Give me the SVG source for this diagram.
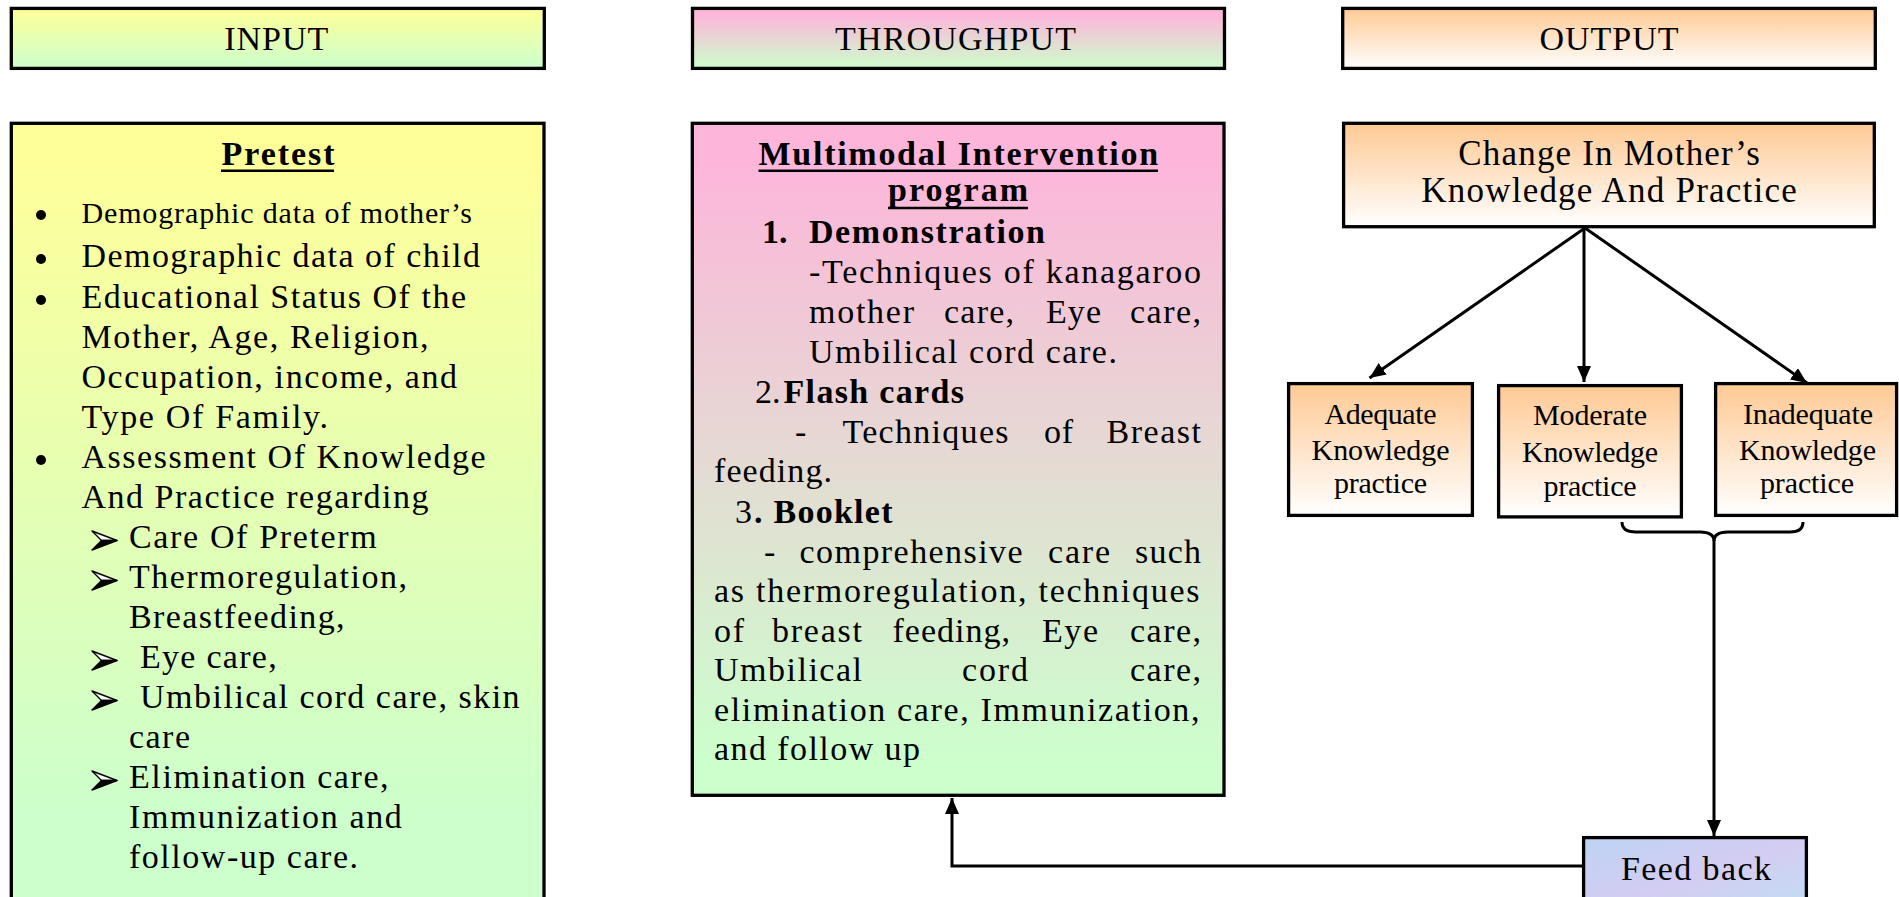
<svg xmlns="http://www.w3.org/2000/svg" width="1899" height="897" viewBox="0 0 1899 897">
<defs>
  <linearGradient id="gYG" x1="0" y1="0" x2="0" y2="1">
    <stop offset="0" stop-color="#FFFF99"/><stop offset="1" stop-color="#CCFFCC"/>
  </linearGradient>
  <linearGradient id="gYGbody" gradientUnits="userSpaceOnUse" x1="0" y1="150" x2="0" y2="820">
    <stop offset="0" stop-color="#FFFF99"/><stop offset="1" stop-color="#CCFFCC"/>
  </linearGradient>
  <linearGradient id="gPG" x1="0" y1="0" x2="0" y2="1">
    <stop offset="0.1" stop-color="#FDB5DA"/><stop offset="1" stop-color="#CCFFCC"/>
  </linearGradient>
  <linearGradient id="gPGbody" x1="0" y1="0" x2="0" y2="1">
    <stop offset="0.05" stop-color="#FDB5DA"/><stop offset="0.95" stop-color="#CCFFCC"/>
  </linearGradient>
  <linearGradient id="gOW" x1="0" y1="0" x2="0" y2="1">
    <stop offset="0.05" stop-color="#FFCC99"/><stop offset="1" stop-color="#FFFFFF"/>
  </linearGradient>
  <linearGradient id="gFB" x1="0" y1="0" x2="1" y2="1">
    <stop offset="0" stop-color="#BCD4F4"/><stop offset="0.5" stop-color="#D4CCF2"/><stop offset="1" stop-color="#BFE0F4"/>
  </linearGradient>
  <marker id="ah" markerUnits="userSpaceOnUse" markerWidth="16" markerHeight="14" refX="16" refY="7" orient="auto">
    <path d="M0,0 L16,7 L0,14 z" fill="#000"/>
  </marker>
  <g id="arrowBullet">
    <path d="M0,0 L25,9.5 L9.5,9.5 Z" fill="#fff" stroke="#000" stroke-width="1.4" stroke-linejoin="round"/>
    <path d="M9.5,9.5 L25,9.5 L0,19 Z" fill="#000" stroke="#000" stroke-width="1.4" stroke-linejoin="round"/>
  </g>
</defs>
<style>
  .t{font-family:"Liberation Serif","Times New Roman",Times,serif;font-size:34px;fill:#000}
  .b{font-weight:bold}
  .s{font-size:30px}
  .m{text-anchor:middle}
  .box{stroke:#000;stroke-width:3.3}
  .ln{stroke:#000;stroke-width:3;fill:none}
  .ul{stroke:#000;stroke-width:2.6}
</style>

<g id="header-input">
  <rect class="box" x="11.3" y="8.4" width="533" height="60" fill="url(#gYG)"/>
  <text class="t m" x="276.3" y="50" textLength="104" lengthAdjust="spacing">INPUT</text>
</g>
<g id="header-throughput">
  <rect class="box" x="692.5" y="8.4" width="532" height="60" fill="url(#gPG)"/>
  <text class="t m" x="955.5" y="50" textLength="241" lengthAdjust="spacing">THROUGHPUT</text>
</g>
<g id="header-output">
  <rect class="box" x="1342.7" y="8.4" width="532.6" height="60" fill="url(#gOW)"/>
  <text class="t m" x="1609" y="50" textLength="139" lengthAdjust="spacing">OUTPUT</text>
</g>

<g id="pretest">
  <rect class="box" x="11.3" y="123.3" width="532.7" height="820" fill="url(#gYGbody)"/>
  <text class="t b m" x="278" y="165" textLength="113" lengthAdjust="spacing">Pretest</text>
  <line class="ul" x1="221" y1="170.7" x2="334" y2="170.7"/>
  <circle cx="41" cy="215" r="5"/>
  <circle cx="41" cy="259" r="5"/>
  <circle cx="41" cy="300" r="5"/>
  <circle cx="41" cy="460" r="5"/>
  <text class="t s" x="81.4" y="223" textLength="390.6" lengthAdjust="spacing">Demographic data of mother’s</text>
  <text class="t" x="81.4" y="267" textLength="398.6" lengthAdjust="spacing">Demographic data of child</text>
  <text class="t" x="81.4" y="308" textLength="384.6" lengthAdjust="spacing">Educational Status Of the</text>
  <text class="t" x="81.4" y="348" textLength="347.2" lengthAdjust="spacing">Mother, Age, Religion,</text>
  <text class="t" x="81.4" y="388" textLength="375.6" lengthAdjust="spacing">Occupation, income, and</text>
  <text class="t" x="81.4" y="428" textLength="246.6" lengthAdjust="spacing">Type Of Family.</text>
  <text class="t" x="81.4" y="468" textLength="404.3" lengthAdjust="spacing">Assessment Of Knowledge</text>
  <text class="t" x="81.4" y="508" textLength="347.2" lengthAdjust="spacing">And Practice regarding</text>
  <use href="#arrowBullet" x="92" y="531"/>
  <use href="#arrowBullet" x="92" y="571"/>
  <use href="#arrowBullet" x="92" y="651"/>
  <use href="#arrowBullet" x="92" y="691"/>
  <use href="#arrowBullet" x="92" y="771"/>
  <text class="t" x="129" y="548" textLength="247.7" lengthAdjust="spacing">Care Of Preterm</text>
  <text class="t" x="129" y="588" textLength="278" lengthAdjust="spacing">Thermoregulation,</text>
  <text class="t" x="129" y="628" textLength="215.6" lengthAdjust="spacing">Breastfeeding,</text>
  <text class="t" x="140" y="668" textLength="136.7" lengthAdjust="spacing">Eye care,</text>
  <text class="t" x="140" y="708" textLength="379.6" lengthAdjust="spacing">Umbilical cord care, skin</text>
  <text class="t" x="129" y="748" textLength="61" lengthAdjust="spacing">care</text>
  <text class="t" x="129" y="788" textLength="259.6" lengthAdjust="spacing">Elimination care,</text>
  <text class="t" x="129" y="828" textLength="272.8" lengthAdjust="spacing">Immunization and</text>
  <text class="t" x="129" y="868" textLength="229" lengthAdjust="spacing">follow-up care.</text>
</g>

<g id="intervention">
  <rect class="box" x="692.3" y="123.3" width="531.7" height="672" fill="url(#gPGbody)"/>
  <text class="t b m" x="958.3" y="165" textLength="399.5" lengthAdjust="spacing">Multimodal Intervention</text>
  <line class="ul" x1="758.5" y1="170.7" x2="1158" y2="170.7"/>
  <text class="t b m" x="958" y="201" textLength="140" lengthAdjust="spacing">program</text>
  <line class="ul" x1="888" y1="208" x2="1028" y2="208"/>
  <text class="t b" x="762" y="243">1.</text>
  <text class="t b" x="809" y="243" textLength="236" lengthAdjust="spacing">Demonstration</text>
  <text class="t" x="809" y="283" textLength="392" lengthAdjust="spacing">-Techniques of kanagaroo</text>
  <text class="t" x="809" y="323" textLength="105" lengthAdjust="spacing">mother</text>
  <text class="t" x="944" y="323" textLength="70" lengthAdjust="spacing">care,</text>
  <text class="t" x="1046" y="323" textLength="55" lengthAdjust="spacing">Eye</text>
  <text class="t" x="1130" y="323" textLength="71" lengthAdjust="spacing">care,</text>
  <text class="t" x="809" y="363" textLength="308" lengthAdjust="spacing">Umbilical cord care.</text>
  <text class="t" x="755" y="403">2.</text>
  <text class="t b" x="783.5" y="403" textLength="180.5" lengthAdjust="spacing">Flash cards</text>
  <text class="t" x="795" y="443">-</text>
  <text class="t" x="842.5" y="443" textLength="166" lengthAdjust="spacing">Techniques</text>
  <text class="t" x="1044" y="443" textLength="29" lengthAdjust="spacing">of</text>
  <text class="t" x="1106.6" y="443" textLength="94.4" lengthAdjust="spacing">Breast</text>
  <text class="t" x="714" y="482" textLength="118" lengthAdjust="spacing">feeding.</text>
  <text class="t" x="735" y="523">3</text>
  <text class="t b" x="754" y="523" textLength="138.5" lengthAdjust="spacing">. Booklet</text>
  <text class="t" x="764" y="562.5">-</text>
  <text class="t" x="799.6" y="562.5" textLength="223" lengthAdjust="spacing">comprehensive</text>
  <text class="t" x="1048" y="562.5" textLength="62" lengthAdjust="spacing">care</text>
  <text class="t" x="1135" y="562.5" textLength="66" lengthAdjust="spacing">such</text>
  <text class="t" x="714" y="602" textLength="485.5" lengthAdjust="spacing">as thermoregulation, techniques</text>
  <text class="t" x="714" y="641.5" textLength="30" lengthAdjust="spacing">of</text>
  <text class="t" x="772" y="641.5" textLength="90" lengthAdjust="spacing">breast</text>
  <text class="t" x="892.5" y="641.5" textLength="117.5" lengthAdjust="spacing">feeding,</text>
  <text class="t" x="1042" y="641.5" textLength="56" lengthAdjust="spacing">Eye</text>
  <text class="t" x="1130" y="641.5" textLength="71" lengthAdjust="spacing">care,</text>
  <text class="t" x="714" y="681" textLength="148" lengthAdjust="spacing">Umbilical</text>
  <text class="t" x="962" y="681" textLength="66" lengthAdjust="spacing">cord</text>
  <text class="t" x="1130" y="681" textLength="71" lengthAdjust="spacing">care,</text>
  <text class="t" x="714" y="720.5" textLength="485.5" lengthAdjust="spacing">elimination care, Immunization,</text>
  <text class="t" x="714" y="760" textLength="206" lengthAdjust="spacing">and follow up</text>
</g>

<g id="change">
  <rect class="box" x="1343.6" y="123.3" width="530.7" height="103.4" fill="url(#gOW)"/>
  <text class="t m" x="1609" y="165" style="font-size:35px" textLength="301.5" lengthAdjust="spacing">Change In Mother’s</text>
  <text class="t m" x="1609" y="202" style="font-size:35px" textLength="375.4" lengthAdjust="spacing">Knowledge And Practice</text>
</g>

<g id="adequate">
  <rect class="box" x="1288.6" y="383.6" width="183.8" height="131.8" fill="url(#gOW)"/>
  <text class="t s m" x="1380.5" y="424" textLength="112" lengthAdjust="spacing">Adequate</text>
  <text class="t s m" x="1380.5" y="460" textLength="138" lengthAdjust="spacing">Knowledge</text>
  <text class="t s m" x="1380.5" y="493" textLength="93" lengthAdjust="spacing">practice</text>
</g>
<g id="moderate">
  <rect class="box" x="1498.6" y="385.6" width="182.8" height="131.3" fill="url(#gOW)"/>
  <text class="t s m" x="1590" y="425" textLength="114" lengthAdjust="spacing">Moderate</text>
  <text class="t s m" x="1590" y="462" textLength="136" lengthAdjust="spacing">Knowledge</text>
  <text class="t s m" x="1590" y="496" textLength="93" lengthAdjust="spacing">practice</text>
</g>
<g id="inadequate">
  <rect class="box" x="1715.6" y="383.6" width="181" height="131.8" fill="url(#gOW)"/>
  <text class="t s m" x="1808" y="424" textLength="130" lengthAdjust="spacing">Inadequate</text>
  <text class="t s m" x="1807.5" y="460" textLength="137" lengthAdjust="spacing">Knowledge</text>
  <text class="t s m" x="1807" y="493" textLength="94" lengthAdjust="spacing">practice</text>
</g>

<g id="feedback">
  <rect class="box" x="1583.6" y="837.6" width="222.8" height="80" fill="url(#gFB)"/>
  <text class="t" x="1621" y="880" textLength="150" lengthAdjust="spacing">Feed back</text>
</g>

<g id="connectors">
  <line class="ln" x1="1585" y1="228" x2="1369.5" y2="378" marker-end="url(#ah)"/>
  <line class="ln" x1="1584" y1="228" x2="1584" y2="382" marker-end="url(#ah)"/>
  <line class="ln" x1="1585" y1="228" x2="1807" y2="383" marker-end="url(#ah)"/>
  <path class="ln" d="M1622,522 Q1622,532 1636,532 L1700,532 Q1714,532 1714,541 Q1714,532 1728,532 L1790,532 Q1803,532 1803,522"/>
  <line class="ln" x1="1714" y1="540" x2="1714" y2="836" marker-end="url(#ah)"/>
  <polyline class="ln" points="1582,866 952,866 952,798" marker-end="url(#ah)"/>
</g>
</svg>
